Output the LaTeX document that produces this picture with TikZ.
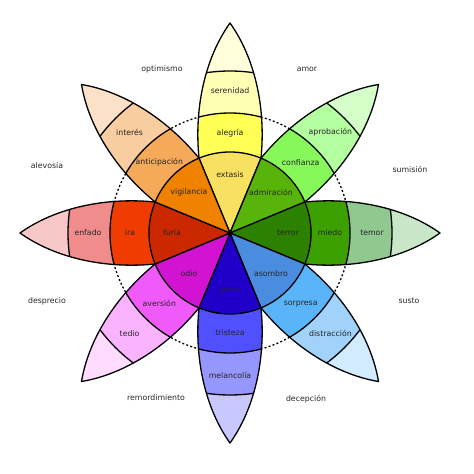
\documentclass[tikz,border=0pt]{standalone}
\usepackage{fontspec}
\setsansfont{DejaVu Sans}
\usepackage{xcolor}
\usepackage{tikz}
\usetikzlibrary{calc}

% petal colours: A inner, B middle, C outer, D tip
\definecolor{yelA}{HTML}{F8E060}\definecolor{yelB}{HTML}{FFFF55}\definecolor{yelC}{HTML}{FFFFB4}\definecolor{yelD}{HTML}{FFFFDC}
\definecolor{lgrA}{HTML}{58B40A}\definecolor{lgrB}{HTML}{86F85A}\definecolor{lgrC}{HTML}{B4FFA0}\definecolor{lgrD}{HTML}{D4FFC8}
\definecolor{dgrA}{HTML}{2C8200}\definecolor{dgrB}{HTML}{3CA000}\definecolor{dgrC}{HTML}{90C890}\definecolor{dgrD}{HTML}{C8E6C8}
\definecolor{lblA}{HTML}{4A8CE0}\definecolor{lblB}{HTML}{5AB4FA}\definecolor{lblC}{HTML}{A0D2FA}\definecolor{lblD}{HTML}{D2EBFF}
\definecolor{dblA}{HTML}{2000C8}\definecolor{dblB}{HTML}{5050FF}\definecolor{dblC}{HTML}{9696FF}\definecolor{dblD}{HTML}{C8C8FF}
\definecolor{magA}{HTML}{D214D2}\definecolor{magB}{HTML}{F05AFA}\definecolor{magC}{HTML}{FAB4FF}\definecolor{magD}{HTML}{FFDCFF}
\definecolor{redA}{HTML}{CC2800}\definecolor{redB}{HTML}{F03C00}\definecolor{redC}{HTML}{F08C8C}\definecolor{redD}{HTML}{F8C8C8}
\definecolor{oraA}{HTML}{F08200}\definecolor{oraB}{HTML}{F5AA5A}\definecolor{oraC}{HTML}{F8CDA0}\definecolor{oraD}{HTML}{FAE1C8}

\begin{document}
\begin{tikzpicture}[x=1pt, y=1pt,
    every node/.style={font=\sffamily\fontsize{7.8}{9}\selectfont},
    label text/.style={text=black!85, inner sep=0pt},
    dyad/.style={text=black!85, inner sep=0pt},
    outline/.style={draw=black, line width=1.3pt, line join=round},
    ring/.style={draw=black, line width=1.3pt},
    guide/.style={draw=black, line width=1.3pt, dash pattern=on 2pt off 2.2pt},
    petal shape/.style={insert path={(0,0) -- (-22.5:81) .. controls (125,-36) and (175,-25) .. (210,0)
        .. controls (175,25) and (125,36) .. (22.5:81) -- cycle}},
]
\useasboundingbox (-230,-241) rectangle (244,233);

% dashed guide circle under the petals
\draw[guide] (0,0) circle (120);

\foreach \ang/\pal [count=\k] in {90/yel, 45/lgr, 0/dgr, -45/lbl, -90/dbl, -135/mag, 180/red, 135/ora}
{
  \begin{scope}[rotate=\ang]
    \begin{scope}
      \clip[petal shape];
      \fill[fill=\pal D] (0,0) circle (215);
      \fill[fill=\pal C] (0,0) circle (162);
      \fill[fill=\pal B] (0,0) circle (120);
      \fill[fill=\pal A] (0,0) circle (81);
      \draw[ring] (0,0) circle (120) (0,0) circle (162);
    \end{scope}
    \draw[outline, petal shape];
  \end{scope}
}
\draw[outline] (0,0) circle (81);

% emotion labels
\foreach \ang/\li/\lm/\lo [count=\k] in {90/extasis/alegría/serenidad,
    45/admiración/confianza/aprobación, 0/terror/miedo/temor,
    -45/asombro/sorpresa/distracción, -90/pena/tristeza/melancolía,
    -135/odio/aversión/tedio, 180/furia/ira/enfado,
    135/vigilancia/anticipación/interés}
{
  \node[label text] (inner\k) at (\ang:58) {\li};
  \node[label text] (mid\k) at (\ang:100) {\lm};
  \node[label text] (outer\k) at (\ang:142) {\lo};
}

% dyads
\node[dyad] (optimismo) at (-68,164) {optimismo};
\node[dyad] (amor) at (77,164) {amor};
\node[dyad] (sumision) at (180,64) {sumisión};
\node[dyad] (alevosia) at (-183,68) {alevosía};
\node[dyad] (desprecio) at (-183,-68) {desprecio};
\node[dyad] (susto) at (179,-68) {susto};
\node[dyad] (decepcion) at (76,-166) {decepción};
\node[dyad] (remordimiento) at (-74,-165) {remordimiento};

\end{tikzpicture}
\end{document}
